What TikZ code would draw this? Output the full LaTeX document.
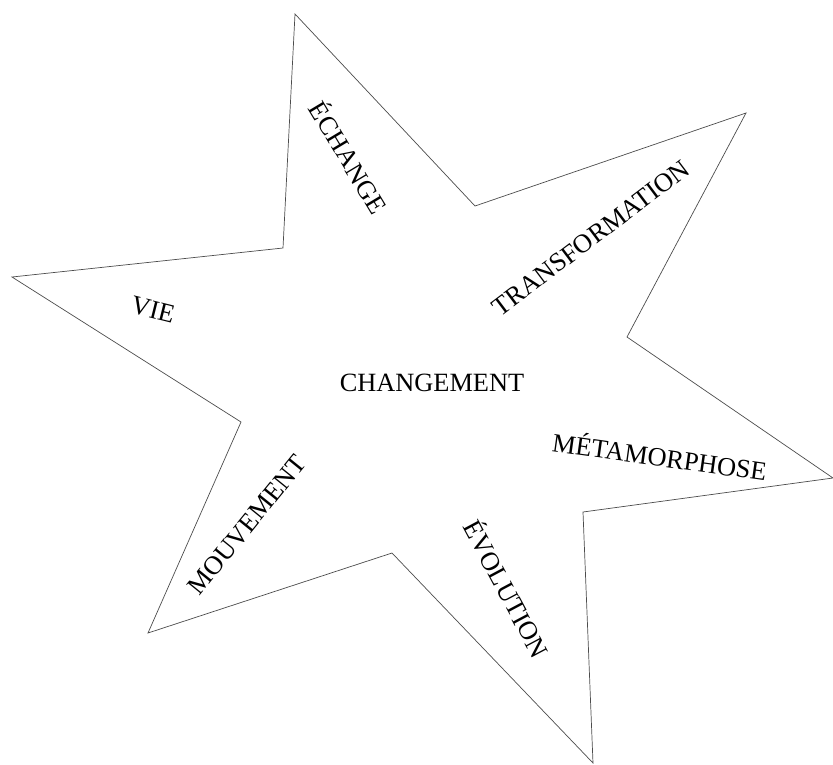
\documentclass[tikz,border=0pt]{standalone}
\usepackage{fontspec}
\setmainfont{Liberation Serif}
\usepackage{tikz}
\usetikzlibrary{positioning}

\begin{document}
\begin{tikzpicture}[x=0.02cm, y=-0.02cm, thin,
  word/.style={font=\fontsize{15}{18}\selectfont, inner sep=1pt}]
\useasboundingbox (0,0) rectangle (833,765);
% star points
\coordinate (t) at (295,14);
\coordinate (ti) at (475,206);
\coordinate (r) at (746,113);
\coordinate (ri) at (627,337);
\coordinate (e) at (833,478);
\coordinate (ei) at (583,512);
\coordinate (b) at (593,763);
\coordinate (bi) at (392,553);
\coordinate (w) at (148,633);
\coordinate (wi) at (241,422);
\coordinate (l) at (12,277);
\coordinate (li) at (283,248);
\draw[black!70] (t) -- (ti) -- (r) -- (ri) -- (e) -- (ei) -- (b) -- (bi) -- (w) -- (wi) -- (l) -- (li) -- cycle;
% words
\node[word] (center) at (432,383) {CHANGEMENT};
\node[word, rotate=-59] (echange) at (350,157) {ÉCHANGE};
\node[word, rotate=37] (transfo) at (591,238) {TRANSFORMATION};
\node[word, rotate=-14] (vie) at (153,310) {VIE};
\node[word, rotate=-8] (meta) at (660,455) {MÉTAMORPHOSE};
\node[word, rotate=51] (mouv) at (247,525) {MOUVEMENT};
\node[word, rotate=-62] (evol) at (508,588) {ÉVOLUTION};
\end{tikzpicture}
\end{document}
